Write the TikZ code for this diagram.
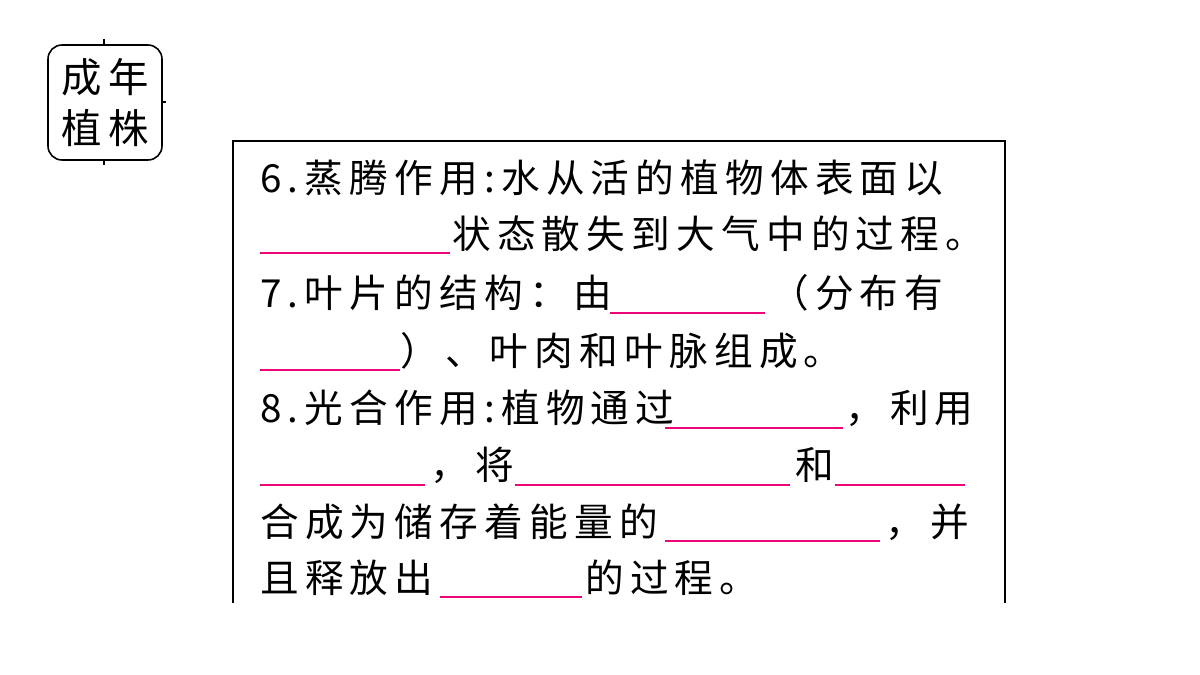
\documentclass[tikz,border=0pt]{standalone}
\usepackage{fontspec}
\newfontfamily\cjk[LetterSpace=16]{Noto Sans CJK SC}
\newfontfamily\cjkb{Noto Sans CJK SC}
\begin{document}
\begin{tikzpicture}[x=0.02cm,y=-0.02cm,
  txt/.style={anchor=base west,inner sep=0pt,font=\cjk\fontsize{22}{26}\selectfont},
  blank/.style={draw=magenta!80!red,line width=1pt},
  frame/.style={draw=black,line width=0.9pt}]
\useasboundingbox (0,0) rectangle (1200,675);
% small label box
\draw[frame,rounded corners=8pt] (48,45) rectangle (162,160);
\draw[frame] (104,39) -- (104,45) (162,102) -- (166,102) (104,160) -- (104,165);
\node[inner sep=0pt,align=center,font=\cjkb\fontsize{23}{29}\selectfont] (lbl) at (105,103) {成\,年\\植\,株};
% main frame
\draw[frame] (233,603) -- (233,141) -- (1005,141) -- (1005,603);
% line 1
\node[txt] (t1) at (260,193) {6.蒸腾作用:水从活的植物体表面以};
% line 2
\draw[blank] (260,253) -- (450,253);
\node[txt] (t2) at (452,249) {状态散失到大气中的过程。};
% line 3
\node[txt] (t3) at (260,308) {7.叶片的结构：由};
\draw[blank] (610,313) -- (765,313);
\node[txt] (t3b) at (770,308) {（分布有};
% line 4
\draw[blank] (260,370) -- (400,370);
\node[txt] (t4) at (400,366) {）、叶肉和叶脉组成。};
% line 5
\node[txt] (t5) at (260,422) {8.光合作用:植物通过};
\draw[blank] (665,428) -- (843,428);
\node[txt] (t5b) at (845,422) {，利用};
% line 6
\draw[blank] (260,485) -- (425,485);
\node[txt] (t6) at (430,479) {，将};
\draw[blank] (515,485) -- (790,485);
\node[txt] (t6b) at (795,479) {和};
\draw[blank] (835,485) -- (965,485);
% line 7
\node[txt] (t7) at (260,536) {合成为储存着能量的};
\draw[blank] (665,541) -- (880,541);
\node[txt] (t7b) at (885,536) {，并};
% line 8
\node[txt] (t8) at (260,592) {且释放出};
\draw[blank] (440,597) -- (582,597);
\node[txt] (t8b) at (585,592) {的过程。};
\end{tikzpicture}
\end{document}
